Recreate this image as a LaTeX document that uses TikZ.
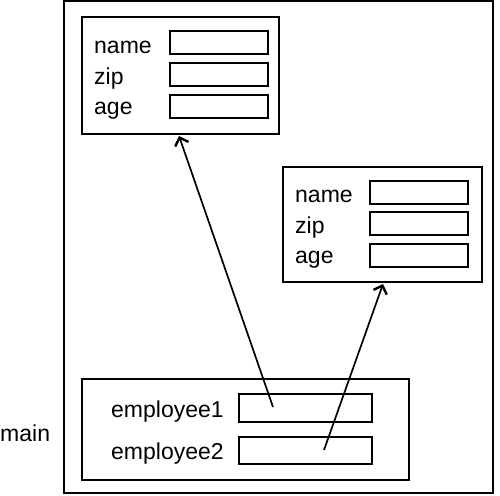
\documentclass[tikz,border=0pt]{standalone}
\usepackage{fontspec}
\setmainfont{Liberation Sans}
\usetikzlibrary{arrows.meta}
\begin{document}
\begin{tikzpicture}[x=1pt,y=-1pt,
 box/.style={draw,line width=2.2pt,inner sep=0pt,outer sep=0pt,anchor=north west},
 fld/.style={box,minimum width=98pt,minimum height=23pt},
 lbl/.style={anchor=base west,inner sep=0pt,font=\fontsize{23}{27}\selectfont},
 ptr/.style={line width=1.7pt,-{Straight Barb[length=7pt,width=14pt,line width=2.4pt]}}]
\useasboundingbox (0,0) rectangle (500,495);
% outer frame
\node[box,minimum width=429pt,minimum height=492pt] (frame) at (64,1) {};
\node[lbl] (mainlbl) at (0,441) {main};
% object 1
\node[box,minimum width=197pt,minimum height=117pt] (obj1) at (82,17) {};
\node[lbl] (n1) at (94,53) {name};
\node[lbl] (z1) at (94,84) {zip};
\node[lbl] (a1) at (94,114) {age};
\node[fld] (fn1) at (170,31) {};
\node[fld] (fz1) at (170,63) {};
\node[fld] (fa1) at (170,95) {};
% object 2
\node[box,minimum width=199pt,minimum height=115pt] (obj2) at (283,167) {};
\node[lbl] (n2) at (295,202) {name};
\node[lbl] (z2) at (295,233) {zip};
\node[lbl] (a2) at (295,263) {age};
\node[fld] (fn2) at (370,181) {};
\node[fld] (fz2) at (370,212) {};
\node[fld] (fa2) at (370,244) {};
% main frame
\node[box,minimum width=327pt,minimum height=101pt] (stack) at (82,379) {};
\node[lbl] (e1) at (111,417) {employee1};
\node[lbl] (e2) at (111,459) {employee2};
\node[fld,minimum width=133pt,minimum height=28pt] (fe1) at (239,394) {};
\node[fld,minimum width=133pt,minimum height=27pt] (fe2) at (239,437) {};
% pointers
\coordinate (p1) at (273,407);
\coordinate (p2) at (324,450);
\coordinate (t1) at (179,136);
\coordinate (t2) at (383,284);
\draw[ptr] (p1) -- (t1);
\draw[ptr] (p2) -- (t2);
\end{tikzpicture}
\end{document}
